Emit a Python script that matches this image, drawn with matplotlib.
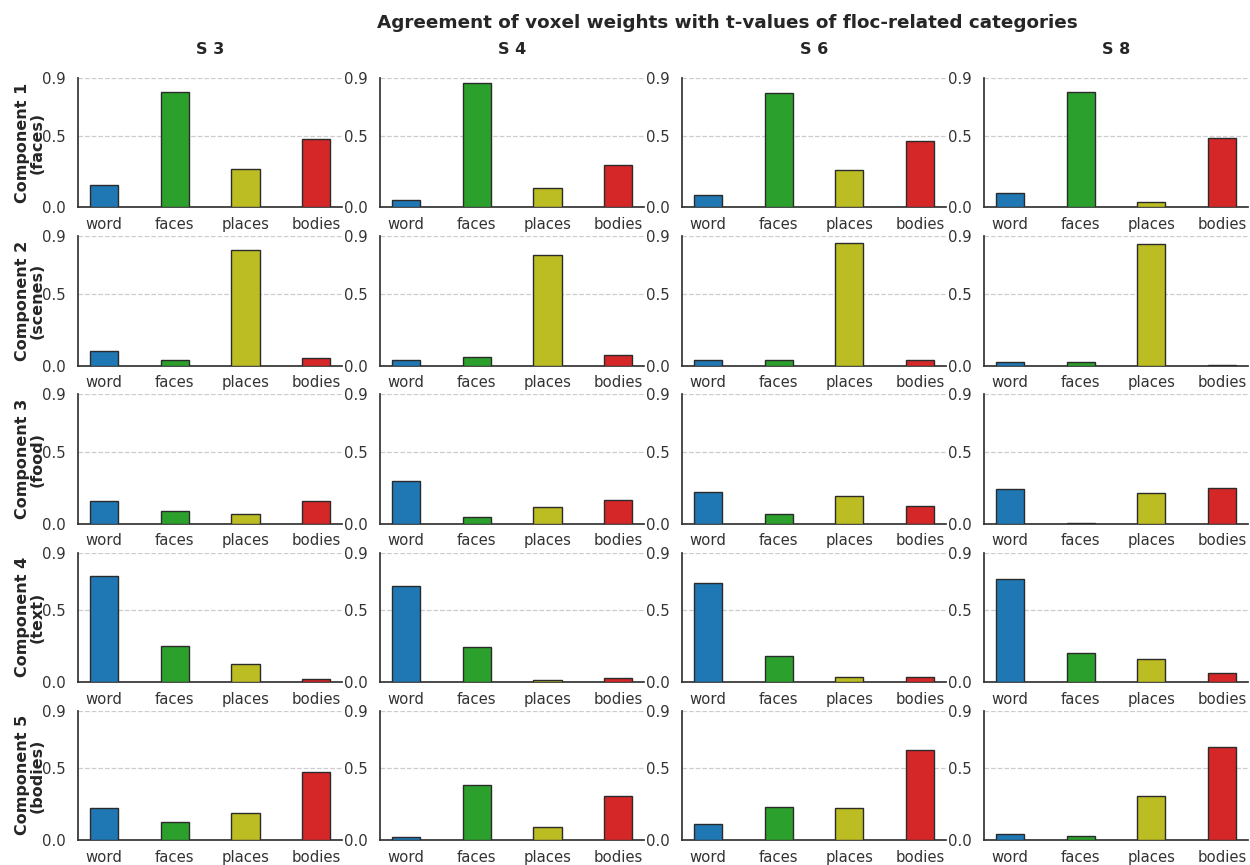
import numpy as np
import seaborn as sns
from matplotlib import pyplot as plt
from matplotlib.ticker import FormatStrFormatter

categories = ['word', 'faces', 'places', 'bodies']
subjects = ['S 3', 'S 4', 'S 6', 'S 8']
components = ['Component 1\n(faces)', 'Component 2\n(scenes)', 'Component 3\n(food)',
              'Component 4\n(text)', 'Component 5\n(bodies)']
bar_colors = ['#1f77b4', '#2ca02c', '#bcbd22', '#d62728']

# agreement per component (rows) and category (columns)
s3_vals = [[0.158, 0.800, 0.264, 0.477],
           [0.100, 0.040, 0.803, 0.055],
           [0.156, 0.087, 0.064, 0.158],
           [0.734, 0.250, 0.125, 0.020],
           [0.220, 0.124, 0.188, 0.470]]
s4_vals = [[0.048, 0.868, 0.133, 0.296],
           [0.041, 0.062, 0.766, 0.071],
           [0.295, 0.044, 0.117, 0.164],
           [0.667, 0.241, 0.012, 0.026],
           [0.021, 0.383, 0.090, 0.304]]
s6_vals = [[0.085, 0.797, 0.258, 0.465],
           [0.037, 0.041, 0.851, 0.037],
           [0.223, 0.064, 0.194, 0.120],
           [0.688, 0.180, 0.037, 0.033],
           [0.110, 0.228, 0.224, 0.629]]
s8_vals = [[0.097, 0.800, 0.037, 0.484],
           [0.021, 0.025, 0.846, 0.007],
           [0.242, 0.005, 0.216, 0.251],
           [0.713, 0.199, 0.160, 0.063],
           [0.041, 0.028, 0.307, 0.648]]

subject_vals = [s3_vals, s4_vals, s6_vals, s8_vals]

sns.set_theme(style='white')
plt.rcParams['font.family'] = ['DejaVu Sans']

fig, axes = plt.subplots(len(components), len(subjects), figsize=(12.5, 8.65), dpi=100)
fig.subplots_adjust(left=0.0624, right=0.9985, top=0.9098, bottom=0.0289,
                    wspace=0.143, hspace=0.223)

x = np.arange(len(categories))
for col, (subj, vals) in enumerate(zip(subjects, subject_vals)):
    for row, comp in enumerate(components):
        ax = axes[row, col]
        ax.bar(x, vals[row], width=0.4, color=bar_colors,
               edgecolor='#2b2b2b', linewidth=1.0, zorder=3)
        ax.set_ylim(0, 0.9)
        ax.set_yticks([0.0, 0.5, 0.9])
        ax.yaxis.set_major_formatter(FormatStrFormatter('%.1f'))
        ax.set_xticks(x)
        ax.set_xticklabels(categories)
        ax.tick_params(axis='both', length=0, labelsize=10.7, colors='#333333')
        ax.tick_params(axis='y', pad=9)
        ax.tick_params(axis='x', pad=7)
        ax.yaxis.grid(True, linestyle='--', color='#cccccc', linewidth=0.9)
        ax.set_axisbelow(True)
        for side in ('top', 'right'):
            ax.spines[side].set_visible(False)
        for side in ('left', 'bottom'):
            ax.spines[side].set_color('#333333')
            ax.spines[side].set_linewidth(1.25)
        if row == 0:
            ax.set_title(subj, fontsize=11.5, fontweight='bold', pad=17, color='#262626')
        if col == 0:
            ax.set_ylabel(comp, fontsize=11.5, fontweight='bold', linespacing=1.0,
                          color='#262626')
            ax.yaxis.set_label_coords(-0.125, 0.5)

fig.suptitle('Agreement of voxel weights with t-values of floc-related categories',
             x=0.582, y=0.984, va='top', fontsize=13.2, fontweight='bold', color='#262626')

plt.savefig('out.png', dpi=100)
plt.close(fig)
